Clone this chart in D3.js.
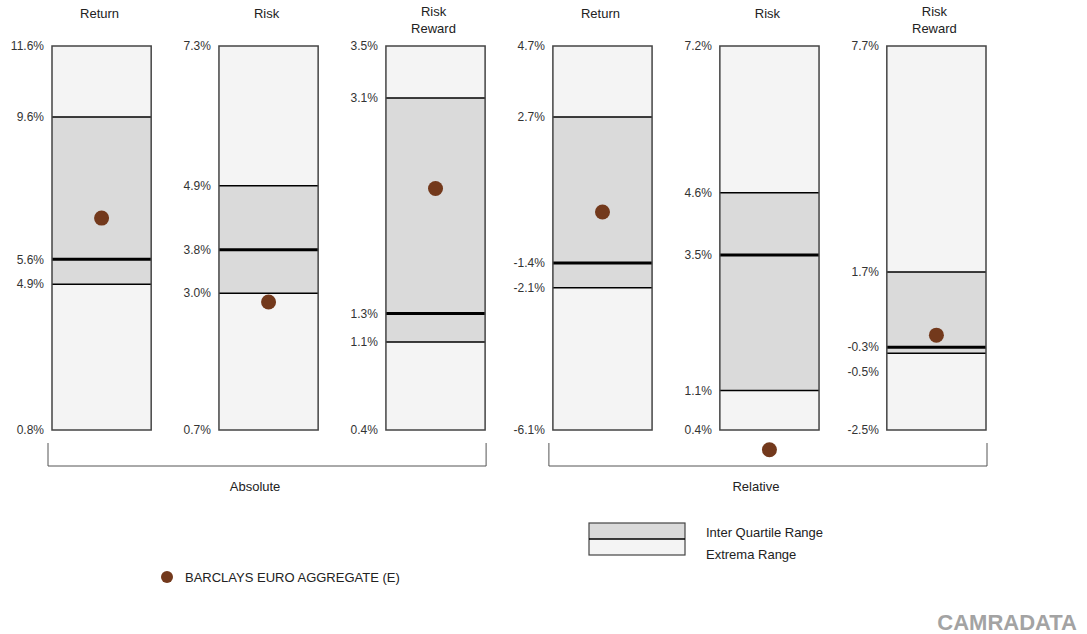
<!DOCTYPE html>
<html>
<head>
<meta charset="utf-8">
<script src="https://cdn.jsdelivr.net/npm/d3@7"></script>
<style>
    body { margin: 0; background: #fff; }
    svg { font-family: "Liberation Sans", Arial, sans-serif; }
</style>
</head>
<body>
<div id="chart"></div>
<script>
// panel titles (one entry per line)
const panelTitles = [["Return"], ["Risk"], ["Risk", "Reward"], ["Return"], ["Risk"], ["Risk", "Reward"]];
const groupNames = ["Absolute", "Relative"];
const groupPanels = [[0, 2], [3, 5]];

// distribution per panel (%)
const maxVals    = [11.6, 7.3, 3.5, 4.7, 7.2, 7.7];
const upperQ     = [9.6, 4.9, 3.08, 2.7, 4.6, 1.7];
const medians    = [5.6, 3.8, 1.34, -1.4, 3.5, -0.3];
const lowerQ     = [4.9, 3.05, 1.11, -2.1, 1.1, -0.46];
const minVals    = [0.8, 0.7, 0.4, -6.1, 0.4, -2.5];
const benchmark  = [6.76, 2.9, 2.35, 0.03, 0.05, 0.02];

const benchmarkName = "BARCLAYS EURO AGGREGATE (E)";
const legendLabels = ["Inter Quartile Range", "Extrema Range"];

const width = 1087, height = 634;
const boxTop = 46, boxBottom = 430;

const colors = {
    extrema: "#f4f4f4",
    iqr: "#dadada",
    dot: "#73391c",
    text: "#222"
};

const svg = d3.select("#chart").append("svg")
    .attr("width", width)
    .attr("height", height);

const x = d3.scaleBand()
    .domain(d3.range(panelTitles.length))
    .range([52, 986])
    .paddingInner(0.406)
    .paddingOuter(0);

// plain hyphen for negatives, like the original
const fmt = v => v.toFixed(1) + "%";

panelTitles.forEach((title, i) => {
    let y = d3.scaleLinear()
        .domain([minVals[i], maxVals[i]])
        .range([boxBottom, boxTop]);

    let g = svg.append("g").attr("class", "panel");
    let x0 = x(i), bw = x.bandwidth();

    // title
    let t = g.append("text")
        .attr("text-anchor", "middle")
        .attr("font-size", 13)
        .attr("fill", colors.text);
    title.forEach((line, k) => {
        t.append("tspan")
            .attr("x", x0 + bw / 2 - 2)
            .attr("y", (title.length === 1 ? 18 : 16 + k * 17))
            .text(line);
    });

    // extrema range
    g.append("rect")
        .attr("x", x0).attr("y", y(maxVals[i]))
        .attr("width", bw).attr("height", y(minVals[i]) - y(maxVals[i]))
        .attr("fill", colors.extrema);

    // inter quartile range
    g.append("rect")
        .attr("x", x0).attr("y", y(upperQ[i]))
        .attr("width", bw).attr("height", y(lowerQ[i]) - y(upperQ[i]))
        .attr("fill", colors.iqr);

    // quartile lines
    [upperQ[i], lowerQ[i]].forEach(v => {
        g.append("line")
            .attr("x1", x0).attr("x2", x0 + bw)
            .attr("y1", y(v)).attr("y2", y(v))
            .attr("stroke", "#000").attr("stroke-width", 1.5);
    });

    // median
    g.append("line")
        .attr("x1", x0).attr("x2", x0 + bw)
        .attr("y1", y(medians[i])).attr("y2", y(medians[i]))
        .attr("stroke", "#000").attr("stroke-width", 3);

    // outline
    g.append("rect")
        .attr("x", x0).attr("y", y(maxVals[i]))
        .attr("width", bw).attr("height", y(minVals[i]) - y(maxVals[i]))
        .attr("fill", "none")
        .attr("stroke", "#444").attr("stroke-width", 1.5);

    // value labels, pushed down when they overlap
    let labels = [maxVals[i], upperQ[i], medians[i], lowerQ[i], minVals[i]]
        .map(v => ({v: v, y: y(v)}));
    for (let k = 1; k < labels.length; k++) {
        if (labels[k].y - labels[k - 1].y < 20) {
            labels[k].y = labels[k - 1].y + 25;
        }
    }
    g.selectAll(".val-label")
        .data(labels)
        .enter().append("text")
        .attr("class", "val-label")
        .attr("x", x0 - 8)
        .attr("y", d => d.y)
        .attr("dy", "0.35em")
        .attr("text-anchor", "end")
        .attr("font-size", 12)
        .attr("fill", "#333")
        .text(d => fmt(d.v));

    // benchmark dot
    g.append("circle")
        .attr("cx", x0 + bw / 2)
        .attr("cy", y(benchmark[i]))
        .attr("r", 7.5)
        .attr("fill", colors.dot);
});

// group brackets
groupNames.forEach((name, j) => {
    let [a, b] = groupPanels[j];
    let x1 = x(a) - 4, x2 = x(b) + x.bandwidth() + 1;
    svg.append("path")
        .attr("d", `M${x1},443 V466 H${x2} V443`)
        .attr("fill", "none")
        .attr("stroke", "#555")
        .attr("stroke-width", 1);
    svg.append("text")
        .attr("x", (x1 + x2) / 2 - 12)
        .attr("y", 491)
        .attr("text-anchor", "middle")
        .attr("font-size", 13)
        .attr("fill", colors.text)
        .text(name);
});

// legend: ranges
let lg = svg.append("g");
lg.append("rect").attr("x", 589).attr("y", 523).attr("width", 96).attr("height", 16).attr("fill", colors.iqr);
lg.append("rect").attr("x", 589).attr("y", 539).attr("width", 96).attr("height", 16).attr("fill", colors.extrema);
lg.append("rect").attr("x", 589).attr("y", 523).attr("width", 96).attr("height", 32)
    .attr("fill", "none").attr("stroke", "#444").attr("stroke-width", 1.2);
lg.append("line").attr("x1", 589).attr("x2", 685).attr("y1", 539).attr("y2", 539)
    .attr("stroke", "#000").attr("stroke-width", 1.5);
legendLabels.forEach((l, k) => {
    lg.append("text")
        .attr("x", 706).attr("y", 532 + k * 22)
        .attr("dy", "0.35em")
        .attr("font-size", 13)
        .attr("fill", colors.text)
        .text(l);
});

// legend: benchmark
svg.append("circle").attr("cx", 167).attr("cy", 577).attr("r", 6).attr("fill", colors.dot);
svg.append("text")
    .attr("x", 185).attr("y", 577)
    .attr("dy", "0.35em")
    .attr("font-size", 13)
    .attr("fill", colors.text)
    .text(benchmarkName);

// watermark
svg.append("text")
    .attr("x", 1077).attr("y", 630)
    .attr("text-anchor", "end")
    .attr("font-size", 22)
    .attr("font-weight", "bold")
    .attr("fill", "#a3a3a3")
    .text("CAMRADATA");
</script>
</body>
</html>
